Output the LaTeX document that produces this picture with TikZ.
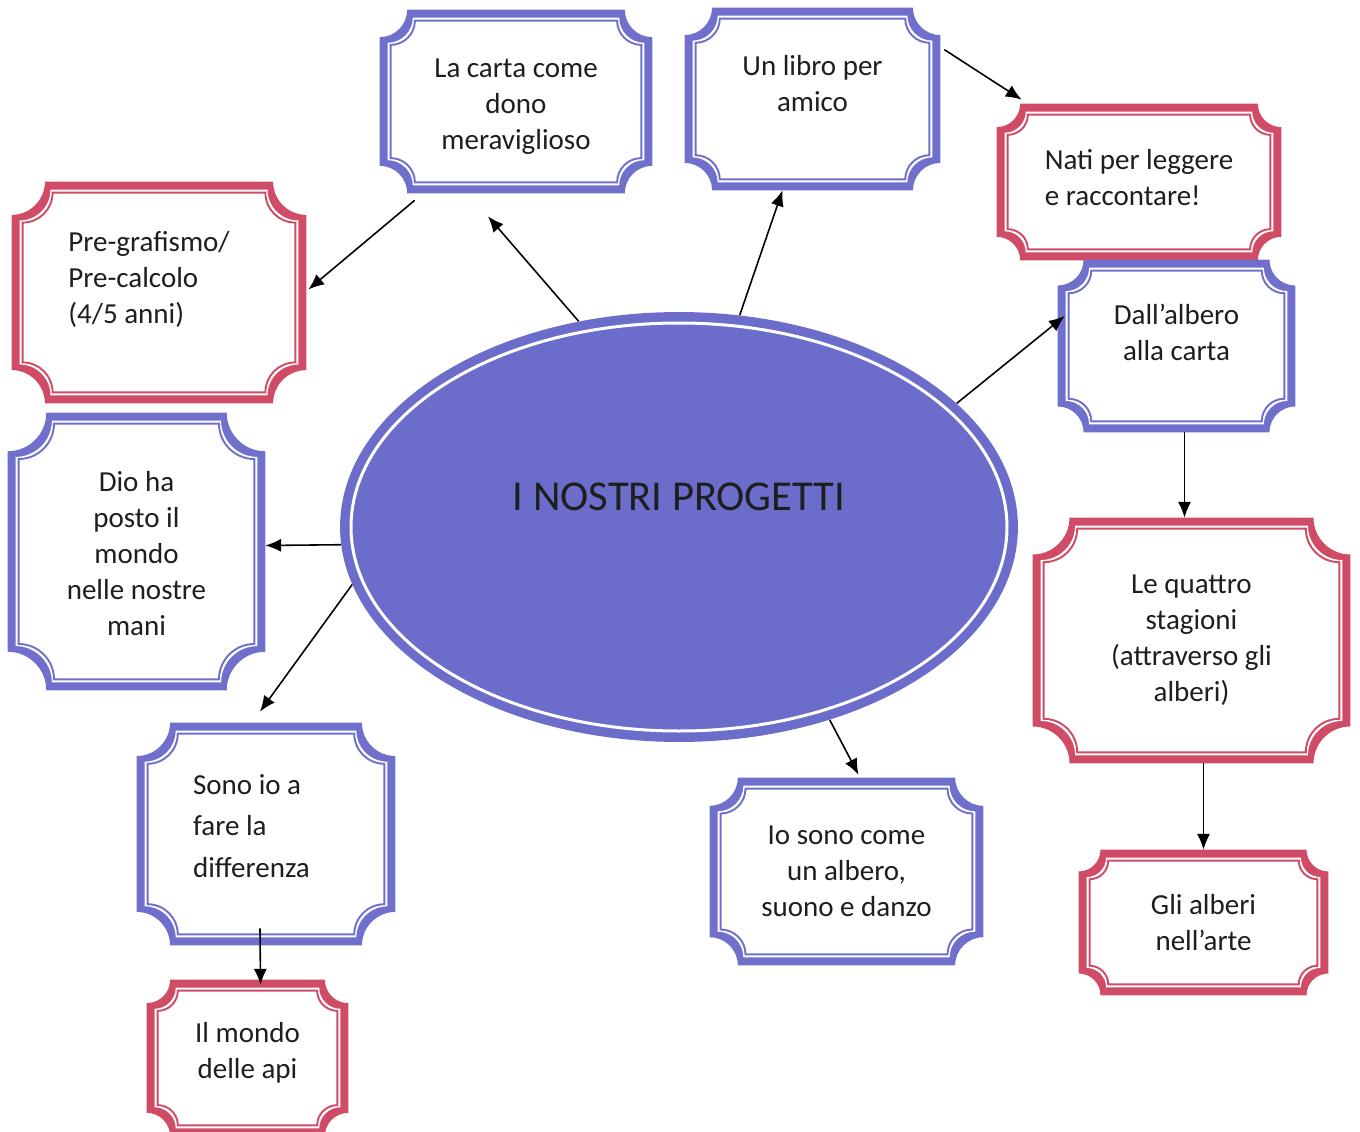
\documentclass[tikz,border=0pt]{standalone}
\usepackage{fontspec}
\setmainfont{Carlito}
\usepackage{tikz}
\usetikzlibrary{calc, fit, backgrounds, shapes.geometric, arrows.meta}
\definecolor{plaqueblue}{RGB}{112,112,204}
\definecolor{plaquered}{RGB}{208,76,102}
\definecolor{ovalblue}{RGB}{108,108,202}
\definecolor{inkgray}{RGB}{30,30,30}
\tikzset{>={Latex[length=9pt,width=7.5pt]}}

% plaque with concave corners: node, inset, options
\newcommand\plaque[3]{%
  \path[#3] let \p1=([shift={(#2,#2)}]#1.south west),
    \p2=([shift={(-#2,-#2)}]#1.north east),
    \n1={0.15*min(\x2-\x1,\y2-\y1)} in
    (\x1,\y1+\n1) -- (\x1,\y2-\n1) arc[start angle=-90,end angle=0,radius=\n1]
    -- (\x2-\n1,\y2) arc[start angle=180,end angle=270,radius=\n1]
    -- (\x2,\y1+\n1) arc[start angle=90,end angle=180,radius=\n1]
    -- (\x1+\n1,\y1) arc[start angle=0,end angle=90,radius=\n1] -- cycle;}

\begin{document}
\begin{tikzpicture}[
    x=0.02cm, y=0.02cm,
    box/.style={inner sep=0pt, draw=none},
    txt/.style={align=center, text=inkgray, font=\fontsize{16.5}{20.5}\selectfont},
    txtl/.style={txt, align=left},
    arrow/.style={->, line width=0.9pt, black},
]
    \useasboundingbox (0,0) rectangle (1360,-1132);

    % central oval
    \node[ellipse, fill=ovalblue, inner sep=0pt, minimum width=13.56cm, minimum height=8.6cm,
        label={[text=inkgray, font=\fontsize{24.2}{29}\selectfont, yshift=0.6cm]center:I NOSTRI PROGETTI}]
        (ell) at (679,-527) {};
    \draw[white, line width=0.06cm] (ell.center) ellipse[x radius=328, y radius=204];

    % top row
    \node[box, fit={(380,-10) (652,-193)},
        label={[txt, yshift=-0.1cm]center:La carta come\\dono\\meraviglioso}] (carta) {};
    \node[box, fit={(685,-8) (940,-190)},
        label={[txt, yshift=0.3cm]center:Un libro per\\amico}] (libro) {};
    \node[box, fit={(997,-104) (1281,-260)},
        label={[txtl, yshift=0.08cm]center:Nati per leggere\\e raccontare!}] (nati) {};

    % left column
    \node[box, fit={(12,-182) (306,-403)},
        label={[txtl, xshift=-0.2cm, yshift=0.26cm]center:Pre-grafismo/\\Pre-calcolo\\(4/5 anni)}] (pre) {};
    \node[box, fit={(8,-413) (265,-690)},
        label={[txt, yshift=-0.04cm]center:Dio ha\\posto il\\mondo\\nelle nostre\\mani}] (dio) {};
    \node[box, fit={(137,-723) (395,-945)},
        label={[txtl, font=\fontsize{16.5}{23.6}\selectfont, xshift=-0.29cm, yshift=0.16cm]center:Sono io a\\fare la\\differenza}] (sono) {};
    \node[box, fit={(147,-980) (348,-1136)},
        label={[txt, yshift=0.1cm]center:Il mondo\\delle api}] (api) {};

    % right column
    \node[box, fit={(1058,-260) (1295,-432)},
        label={[txt, yshift=0.28cm]center:Dall’albero\\alla carta}] (dall) {};
    \node[box, fit={(1033,-518) (1350,-763)},
        label={[txt]center:Le quattro\\stagioni\\(attraverso gli\\alberi)}] (quattro) {};
    \node[box, fit={(1079,-850) (1328,-995)},
        label={[txt]center:Gli alberi\\nell’arte}] (gli) {};
    \node[box, fit={(710,-778) (983,-965)},
        label={[txt]center:{Io sono come\\un albero,\\suono e danzo}}] (io) {};

    % plaque frames
    \begin{scope}[on background layer]
        \foreach \nm/\col in {carta/plaqueblue, libro/plaqueblue, nati/plaquered,
            pre/plaquered, dio/plaqueblue, sono/plaqueblue, api/plaquered,
            dall/plaqueblue, quattro/plaquered, gli/plaquered, io/plaqueblue} {
            \plaque{\nm}{0}{fill=\col}
            \plaque{\nm}{8}{fill=white}
            \plaque{\nm}{11}{draw=\col, line width=1.1pt}
        }
    \end{scope}

    % connectors
    \draw[arrow] (ell.116) -- ($(carta.south)+(-28,-23)$);
    \draw[arrow] (ell.74.5) -- ($(libro.south)+(-30,0)$);
    \draw[arrow] ($(carta.south west)+(35,-7)$) -- ($(pre.east)+(2,3)$);
    \draw[arrow] ($(libro.north east)+(4,-42)$) -- ($(nati.north west)+(25,4)$);
    \draw[arrow] (ell.24) -- ($(dall.west)+(7,30)$);
    \draw[arrow] ($(dall.south)+(8,0)$) -- ($(quattro.north)+(-7,0)$);
    \draw[arrow] (gli.north |- quattro.south) -- (gli.north);
    \draw[arrow] (ell.183) -- ($(dio.east)+(0,6)$);
    \draw[arrow] (ell.190) -- ($(sono.north)+(-6,11)$);
    \draw[arrow] (ell.308) -- ($(io.north)+(12,3)$);
    \draw[arrow] ($(sono.south)+(-6,17)$) -- ($(api.north)+(13,-5)$);
\end{tikzpicture}
\end{document}
